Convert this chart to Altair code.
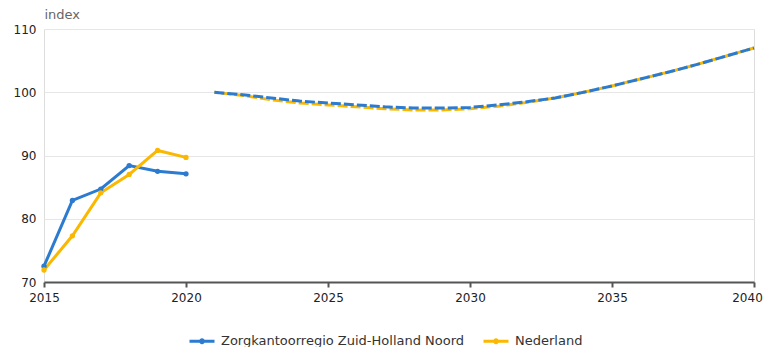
import altair as alt
import pandas as pd

series_names = ["Zorgkantoorregio Zuid-Holland Noord", "Nederland"]
colors = ["#2b7bd0", "#fbb800"]

years_hist = [2015, 2016, 2017, 2018, 2019, 2020]
zh_hist = [72.5, 82.9, 84.7, 88.4, 87.5, 87.1]
nl_hist = [71.9, 77.3, 84.1, 87.0, 90.8, 89.7]

years_proj = list(range(2021, 2041))
zh_proj = [100.0, 99.6, 99.1, 98.6, 98.3, 98.0, 97.7, 97.5, 97.5, 97.6,
           98.0, 98.5, 99.1, 100.0, 101.0, 102.1, 103.2, 104.4, 105.7, 107.0]
nl_proj = [100.0, 99.5, 98.8, 98.3, 98.0, 97.7, 97.4, 97.2, 97.2, 97.4,
           97.8, 98.4, 99.1, 100.0, 101.0, 102.1, 103.2, 104.4, 105.7, 107.0]

x_ticks = [2015, 2020, 2025, 2030, 2035, 2040]
y_ticks = [70, 80, 90, 100, 110]

rows = []
for yr, a, b in zip(years_hist, zh_hist, nl_hist):
    rows.append(dict(year=yr, value=a, series=series_names[0], period="hist"))
    rows.append(dict(year=yr, value=b, series=series_names[1], period="hist"))
for yr, a, b in zip(years_proj, zh_proj, nl_proj):
    rows.append(dict(year=yr, value=a, series=series_names[0], period="proj"))
    rows.append(dict(year=yr, value=b, series=series_names[1], period="proj"))
df = pd.DataFrame(rows)

FONT = "DejaVu Sans"

legend_symbol = "M-1,0H1M0.12,0A0.12,0.12 0 1,1 -0.12,0A0.12,0.12 0 1,1 0.12,0"

color = alt.Color(
    "series:N",
    scale=alt.Scale(domain=series_names, range=colors),
    legend=alt.Legend(
        title=None,
        orient="none",
        legendX=144,
        legendY=298,
        direction="horizontal",
        symbolType=legend_symbol,
        symbolSize=625,
        symbolStrokeWidth=3,
        labelFont=FONT,
        labelFontSize=13,
        labelColor="#333333",
        labelOffset=5,
        labelLimit=0,
        columnPadding=12,
    ),
)

x = alt.X(
    "year:Q",
    scale=alt.Scale(domain=[2015, 2040], nice=False, zero=False),
    axis=alt.Axis(
        values=x_ticks, format="d", title=None, grid=False,
        domain=True, domainColor="#555555", domainWidth=2,
        ticks=True, tickColor="#555555", tickWidth=2, tickSize=5,
        labelFont=FONT, labelFontSize=12, labelColor="#222222", labelPadding=5,
        labelFlush=False,
        labelOffset={"condition": {"test": "datum.value == 2040", "value": -7}, "value": 0},
    ),
)

y = alt.Y(
    "value:Q",
    scale=alt.Scale(domain=[70, 110], nice=False, zero=False),
    axis=alt.Axis(
        values=y_ticks, title="index", titleAngle=0, titleAlign="left",
        titleBaseline="alphabetic", titleX=0, titleY=-11,
        titleFont=FONT, titleFontSize=13, titleFontWeight="normal", titleColor="#666666",
        domain=False, ticks=False, grid=True, gridColor="#e6e6e6", gridWidth=1,
        labelFont=FONT, labelFontSize=12, labelColor="#222222", labelPadding=8,
    ),
)

pcolor = alt.Color("series:N", scale=alt.Scale(domain=series_names, range=colors), legend=None)

base = alt.Chart(df)

hist_line = base.transform_filter(alt.datum.period == "hist").mark_line(
    strokeWidth=3
).encode(x=x, y=y, color=color)

hist_pts = base.transform_filter(alt.datum.period == "hist").mark_point(
    filled=True, size=28, opacity=1
).encode(x=x, y=y, color=pcolor)

proj_nl = base.transform_filter(
    (alt.datum.period == "proj") & (alt.datum.series == series_names[1])
).mark_line(strokeWidth=3, strokeDash=[10, 3], strokeDashOffset=6).encode(
    x=x, y=y, color=pcolor
)

proj_zh = base.transform_filter(
    (alt.datum.period == "proj") & (alt.datum.series == series_names[0])
).mark_line(strokeWidth=3, strokeDash=[10, 3]).encode(
    x=x, y=y, color=pcolor
)

chart = alt.layer(hist_line, hist_pts, proj_nl, proj_zh).properties(
    width=710,
    height=253,
    autosize=alt.AutoSizeParams(type="none"),
    padding={"left": 36, "top": 21, "right": 10, "bottom": 66},
).configure_view(stroke=None).configure(background="white")

chart.save("out.html", embed_options={"renderer": "svg", "actions": False})
